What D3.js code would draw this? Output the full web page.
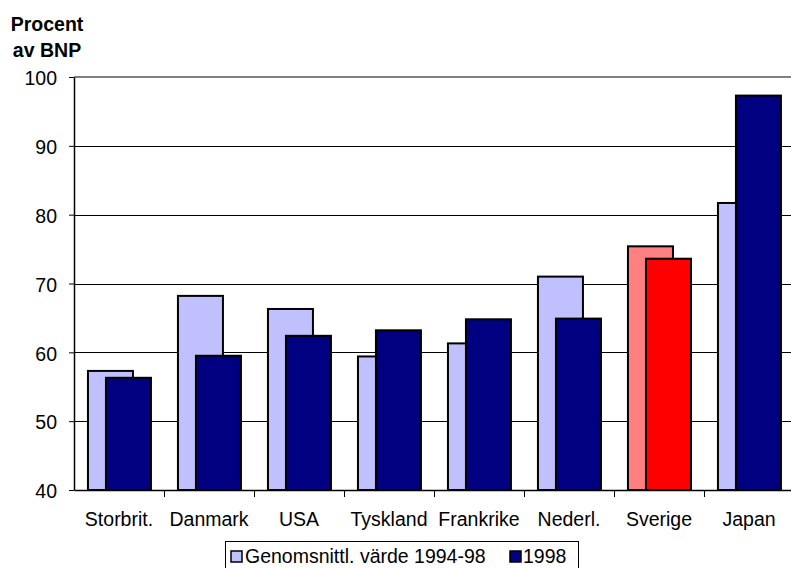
<!DOCTYPE html>
<html>
<head>
<meta charset="utf-8">
<script src="https://cdn.jsdelivr.net/npm/d3@7"></script>
<style>
  html, body { margin: 0; padding: 0; background: #fff; }
  svg { display: block; }
  text { font-family: Arial, "Liberation Sans", sans-serif; fill: #000; }
</style>
</head>
<body>
<svg id="chart" width="791" height="568"></svg>
<script>
// Statsskuld i procent av BNP
const countries = ["Storbrit.", "Danmark", "USA", "Tyskland", "Frankrike", "Nederl.", "Sverige", "Japan"];
const avg9498   = [57.3, 68.2, 66.3, 59.4, 61.3, 71.0, 75.4, 81.7];
const value1998 = [56.3, 59.5, 62.4, 63.2, 64.8, 64.9, 73.6, 97.3];
const yTicks = [40, 50, 60, 70, 80, 90, 100];
const seriesNames = ["Genomsnittl. värde 1994-98", "1998"];
const highlight = "Sverige";

const colors = {
  avg: "#C0C0FF", cur: "#000080",
  avgHi: "#FF8080", curHi: "#FF0000"
};

const svg = d3.select("#chart");
const plotLeft = 74, plotRight = 794, plotTop = 77, plotBottom = 490;
const fontSize = 19.5;

const x = d3.scaleBand().domain(countries).range([plotLeft, plotRight]).padding(0);
const y = d3.scaleLinear().domain([40, 100]).range([plotBottom, plotTop]);

// gridlines
svg.append("g")
  .selectAll("line")
  .data(yTicks.filter(v => v > 40 && v < 100))
  .join("line")
  .attr("x1", plotLeft).attr("x2", plotRight)
  .attr("y1", d => Math.round(y(d)) + 0.5).attr("y2", d => Math.round(y(d)) + 0.5)
  .attr("stroke", "#000").attr("stroke-width", 1);

// top border of plot area
svg.append("line")
  .attr("x1", plotLeft).attr("x2", plotRight)
  .attr("y1", y(100)).attr("y2", y(100))
  .attr("stroke", "#808080").attr("stroke-width", 2);

// bars
const bw = x.bandwidth();
const barW = bw * 0.5;
const offAvg = bw * 0.155;
const offCur = bw * 0.355;
const rows = countries.map((c, i) => ({ c, avg: avg9498[i], cur: value1998[i] }));

const g = svg.append("g");
g.selectAll("rect.avg")
  .data(rows).join("rect")
  .attr("class", "avg")
  .attr("x", d => x(d.c) + offAvg)
  .attr("y", d => y(d.avg))
  .attr("width", barW)
  .attr("height", d => y(40) - y(d.avg))
  .attr("fill", d => d.c === highlight ? colors.avgHi : colors.avg)
  .attr("stroke", "#000").attr("stroke-width", 2);

g.selectAll("rect.cur")
  .data(rows).join("rect")
  .attr("class", "cur")
  .attr("x", d => x(d.c) + offCur)
  .attr("y", d => y(d.cur))
  .attr("width", barW)
  .attr("height", d => y(40) - y(d.cur))
  .attr("fill", d => d.c === highlight ? colors.curHi : colors.cur)
  .attr("stroke", "#000").attr("stroke-width", 2);

// y axis
const yAxis = svg.append("g")
  .attr("transform", `translate(${plotLeft},0)`)
  .call(d3.axisLeft(y).tickValues(yTicks).tickSize(5).tickSizeOuter(0).tickPadding(12));
yAxis.select(".domain").attr("stroke", "#000").attr("stroke-width", 1.5);
yAxis.selectAll(".tick line").attr("stroke", "#000");
yAxis.selectAll(".tick text")
  .attr("font-size", fontSize)
  .attr("font-family", "Arial, 'Liberation Sans', sans-serif")
  .attr("fill", "#000")
  .attr("dy", "0.4em");

// x axis
const xAxis = svg.append("g")
  .attr("transform", `translate(0,${plotBottom})`)
  .call(d3.axisBottom(x).tickSize(0).tickSizeOuter(0).tickPadding(22));
xAxis.select(".domain").attr("stroke", "#000").attr("stroke-width", 1.5);
xAxis.selectAll(".tick text")
  .attr("font-size", fontSize)
  .attr("font-family", "Arial, 'Liberation Sans', sans-serif")
  .attr("fill", "#000");

// category boundary ticks
svg.append("g")
  .selectAll("line")
  .data(countries.slice(1))
  .join("line")
  .attr("x1", d => Math.round(x(d)) + 0.5)
  .attr("x2", d => Math.round(x(d)) + 0.5)
  .attr("y1", plotBottom).attr("y2", plotBottom + 7)
  .attr("stroke", "#000").attr("stroke-width", 1);

// axis title
const title = svg.append("text")
  .attr("text-anchor", "middle")
  .attr("font-size", fontSize).attr("font-weight", "bold");
title.append("tspan").attr("x", 47).attr("y", 31).text("Procent");
title.append("tspan").attr("x", 47).attr("y", 57).text("av BNP");

// legend
const legend = svg.append("g");
legend.append("rect")
  .attr("x", 225.5).attr("y", 541.5)
  .attr("width", 353).attr("height", 40)
  .attr("fill", "#fff").attr("stroke", "#000").attr("stroke-width", 1);
const legendItems = [
  { name: seriesNames[0], color: colors.avg, sx: 231, tx: 245 },
  { name: seriesNames[1], color: colors.cur, sx: 510, tx: 523 }
];
legendItems.forEach(it => {
  legend.append("rect")
    .attr("x", it.sx).attr("y", 551)
    .attr("width", 11).attr("height", 11)
    .attr("fill", it.color).attr("stroke", "#000").attr("stroke-width", 1.5);
  legend.append("text")
    .attr("x", it.tx).attr("y", 563)
    .attr("font-size", fontSize)
    .text(it.name);
});
</script>
</body>
</html>
